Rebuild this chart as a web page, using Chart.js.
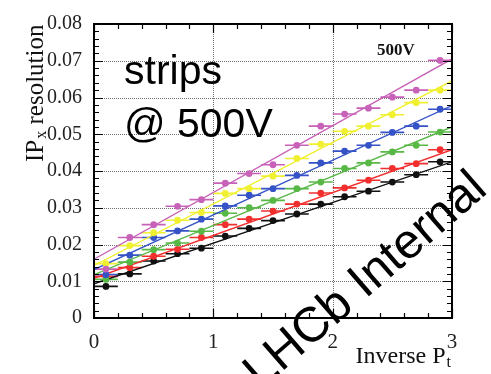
<!DOCTYPE html>
<html>
<head>
<meta charset="utf-8">
<script src="https://cdn.jsdelivr.net/npm/chart.js@4.4.1/dist/chart.umd.min.js"></script>
<style>
  html, body { margin: 0; padding: 0; background: #fff; }
  canvas { display: block; }
</style>
</head>
<body>
<canvas id="ipChart" width="491" height="374"></canvas>
<script>
// bin centres in inverse Pt, bins are 0.2 wide
const xBins = [0.1, 0.3, 0.5, 0.7, 0.9, 1.1, 1.3, 1.5, 1.7, 1.9, 2.1, 2.3, 2.5, 2.7, 2.9]
const binHalfWidth = 0.1

const pinkVals   = [0.0133, 0.0219, 0.0254, 0.0304, 0.0322, 0.0367, 0.0393, 0.0417, 0.0470, 0.0522, 0.0555, 0.0571, 0.0601, 0.0620, 0.0701]
const yellowVals = [0.0148, 0.0197, 0.0232, 0.0266, 0.0287, 0.0339, 0.0352, 0.0386, 0.0434, 0.0473, 0.0508, 0.0522, 0.0553, 0.0586, 0.0620]
const blueVals   = [0.0118, 0.0171, 0.0219, 0.0237, 0.0269, 0.0305, 0.0334, 0.0352, 0.0388, 0.0422, 0.0454, 0.0470, 0.0505, 0.0522, 0.0568]
const greenVals  = [0.0105, 0.0152, 0.0186, 0.0204, 0.0236, 0.0285, 0.0300, 0.0320, 0.0352, 0.0370, 0.0407, 0.0422, 0.0452, 0.0470, 0.0506]
const redVals    = [0.0113, 0.0137, 0.0168, 0.0187, 0.0219, 0.0254, 0.0269, 0.0291, 0.0310, 0.0340, 0.0354, 0.0375, 0.0407, 0.0420, 0.0458]
const blackVals  = [0.0086, 0.0120, 0.0155, 0.0175, 0.0190, 0.0223, 0.0244, 0.0265, 0.0283, 0.0310, 0.0330, 0.0345, 0.0370, 0.0390, 0.0425]

// fitted straight lines, value at x=0 and x=3
const fitX = [0, 3]
const pinkFit   = [0.0160, 0.0705]
const yellowFit = [0.0143, 0.0645]
const blueFit   = [0.0132, 0.0578]
const greenFit  = [0.0118, 0.0520]
const redFit    = [0.0108, 0.0458]
const blackFit  = [0.0093, 0.0425]

const yTicks = [0, 0.01, 0.02, 0.03, 0.04, 0.05, 0.06, 0.07, 0.08]
const xTicks = [0, 1, 2, 3]

const series = [
    {vals: pinkVals,   fit: pinkFit,   color: '#c862b8'},
    {vals: yellowVals, fit: yellowFit, color: '#f0f030'},
    {vals: blueVals,   fit: blueFit,   color: '#3553c6'},
    {vals: greenVals,  fit: greenFit,  color: '#58b846'},
    {vals: redVals,    fit: redFit,    color: '#f22f2f'},
    {vals: blackVals,  fit: blackFit,  color: '#111111'}
]

const serif = '"Liberation Serif", "DejaVu Serif", serif'
const sans = '"Liberation Sans", Arial, sans-serif'

let datasets = []
series.forEach(function(s){
    datasets.push({
        type: 'scatter',
        showLine: true,
        data: fitX.map((x, i) => ({x: x, y: s.fit[i]})),
        borderColor: s.color,
        borderWidth: 1.4,
        pointRadius: 0,
        isFit: true
    })
    datasets.push({
        type: 'scatter',
        data: xBins.map((x, i) => ({x: x, y: s.vals[i]})),
        backgroundColor: s.color,
        borderColor: s.color,
        pointRadius: 3.4,
        pointBorderWidth: 0,
        errColor: s.color
    })
})

// dotted grid at the major ticks
const dottedGrid = {
    id: 'dottedGrid',
    beforeDatasetsDraw(chart){
        const ctx = chart.ctx
        const a = chart.chartArea
        const xs = chart.scales.x, ys = chart.scales.y
        ctx.save()
        ctx.strokeStyle = '#707070'
        ctx.lineWidth = 1
        ctx.setLineDash([1, 1])
        ctx.beginPath()
        yTicks.forEach(function(v){
            let py = Math.round(ys.getPixelForValue(v)) + 0.5
            ctx.moveTo(a.left, py); ctx.lineTo(a.right, py)
        })
        xTicks.forEach(function(v){
            let px = Math.round(xs.getPixelForValue(v)) + 0.5
            ctx.moveTo(px, a.top); ctx.lineTo(px, a.bottom)
        })
        ctx.stroke()
        ctx.restore()
    }
}

// horizontal bin-width bars + tiny vertical bars
const errorBars = {
    id: 'errorBars',
    beforeDatasetsDraw(chart){
        const ctx = chart.ctx
        const xs = chart.scales.x, ys = chart.scales.y
        ctx.save()
        chart.data.datasets.forEach(function(ds){
            if(ds.isFit) return
            ctx.strokeStyle = ds.errColor
            ctx.lineWidth = 1.6
            ds.data.forEach(function(p){
                let py = ys.getPixelForValue(p.y)
                ctx.beginPath()
                ctx.moveTo(xs.getPixelForValue(p.x - binHalfWidth), py)
                ctx.lineTo(xs.getPixelForValue(p.x + binHalfWidth), py)
                ctx.moveTo(xs.getPixelForValue(p.x), ys.getPixelForValue(p.y - 0.0005))
                ctx.lineTo(xs.getPixelForValue(p.x), ys.getPixelForValue(p.y + 0.0005))
                ctx.stroke()
            })
        })
        ctx.restore()
    }
}

// frame, inward ticks (major + minor) and all the extra text
const frameAndText = {
    id: 'frameAndText',
    afterDraw(chart){
        const ctx = chart.ctx
        const a = chart.chartArea
        const xs = chart.scales.x, ys = chart.scales.y
        ctx.save()
        ctx.strokeStyle = '#000'
        ctx.lineWidth = 1.2
        ctx.beginPath()
        for(let i = 0; i <= 40; i++){
            let py = Math.round(ys.getPixelForValue(i * 0.002)) + 0.5
            let len = (i % 5 == 0) ? 9 : 5
            ctx.moveTo(a.left, py); ctx.lineTo(a.left + len, py)
            ctx.moveTo(a.right, py); ctx.lineTo(a.right - len, py)
        }
        for(let i = 0; i <= 15; i++){
            let px = Math.round(xs.getPixelForValue(i * 0.2)) + 0.5
            let len = (i % 5 == 0) ? 9 : 5
            ctx.moveTo(px, a.bottom); ctx.lineTo(px, a.bottom - len)
            ctx.moveTo(px, a.top); ctx.lineTo(px, a.top + len)
        }
        ctx.stroke()

        ctx.lineWidth = 2
        ctx.strokeRect(a.left, a.top, a.right - a.left, a.bottom - a.top)

        ctx.fillStyle = '#111'
        ctx.textBaseline = 'alphabetic'

        // y title: IP_x resolution
        ctx.save()
        ctx.translate(43, 162)
        ctx.rotate(-Math.PI / 2)
        ctx.textAlign = 'left'
        ctx.font = '25px ' + serif
        ctx.fillText('IP', 0, 0)
        let w = ctx.measureText('IP').width
        ctx.font = '16px ' + serif
        ctx.fillText('x', w + 1, 3)
        w += ctx.measureText('x').width + 1
        ctx.font = '25px ' + serif
        ctx.fillText(' resolution', w, 0)
        ctx.restore()

        // x title: Inverse P_t
        ctx.font = '24px ' + serif
        let w1 = ctx.measureText('Inverse P').width
        ctx.font = '16px ' + serif
        let w2 = ctx.measureText('t').width
        let startX = 451 - w1 - w2 - 1
        ctx.textAlign = 'left'
        ctx.font = '24px ' + serif
        ctx.fillText('Inverse P', startX, 363)
        ctx.font = '16px ' + serif
        ctx.fillText('t', startX + w1 + 1, 367)

        // 500V label
        ctx.font = 'bold 17px ' + serif
        ctx.fillText('500V', 377, 55)

        // strips @ 500V
        ctx.fillStyle = '#000'
        ctx.font = '41px ' + sans
        ctx.fillText('strips', 124, 84)
        ctx.fillText('@ 500V', 124, 137)

        // LHCb Internal stamp
        ctx.save()
        ctx.translate(366, 281)
        ctx.rotate(-41 * Math.PI / 180)
        ctx.textAlign = 'center'
        ctx.textBaseline = 'middle'
        ctx.font = '49px ' + sans
        ctx.fillText('LHCb Internal', 0, 0)
        ctx.restore()

        ctx.restore()
    }
}

const ctxIP = document.getElementById('ipChart')

let ipChart = new Chart(ctxIP, {
    type: 'scatter',
    data: { datasets: datasets },
    options: {
        responsive: false,
        animation: false,
        events: [],
        layout: { padding: { left: 0, right: 39, top: 24, bottom: 0 } },
        plugins: { legend: { display: false }, tooltip: { enabled: false } },
        scales: {
            x: {
                type: 'linear',
                min: 0, max: 3,
                afterBuildTicks: function(scale){ scale.ticks = xTicks.map(v => ({value: v})) },
                ticks: {
                    color: '#222',
                    font: { family: serif, size: 21 },
                    padding: 4,
                    maxRotation: 0
                },
                grid: { display: false },
                border: { display: false },
                afterFit: function(scale){ scale.height = 56 }
            },
            y: {
                type: 'linear',
                min: 0, max: 0.08,
                afterBuildTicks: function(scale){ scale.ticks = yTicks.map(v => ({value: v})) },
                ticks: {
                    color: '#222',
                    font: { family: serif, size: 20 },
                    padding: 4
                },
                grid: { display: false },
                border: { display: false },
                afterFit: function(scale){ scale.width = 94 }
            }
        }
    },
    plugins: [dottedGrid, errorBars, frameAndText]
})
</script>
</body>
</html>
